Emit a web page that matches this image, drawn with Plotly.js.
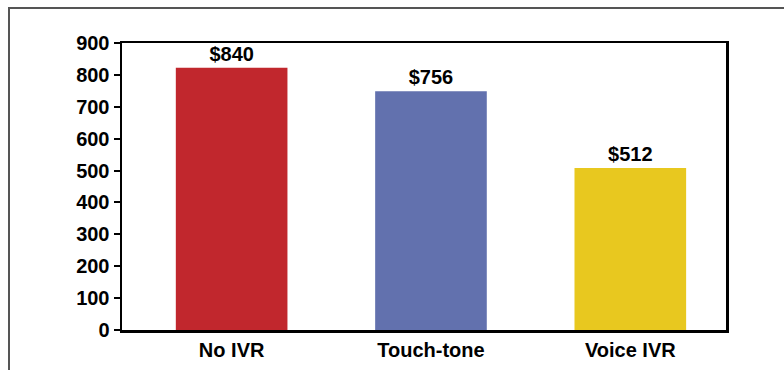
<!DOCTYPE html>
<html>
<head>
<meta charset="utf-8">
<script src="https://cdn.plot.ly/plotly-3.0.1.min.js"></script>
<style>
html,body{margin:0;padding:0;background:#fff;}
#wrap{position:relative;width:784px;height:370px;overflow:hidden;}
#frame{position:absolute;left:8px;top:7px;width:800px;height:400px;border-left:2px solid #555;border-top:2px solid #555;pointer-events:none;}
#chart{position:absolute;left:0;top:0;width:784px;height:370px;}
</style>
</head>
<body>
<div id="wrap">
<div id="chart"></div>
<div id="frame"></div>
</div>
<script>
const categories = ["No IVR", "Touch-tone", "Voice IVR"];
const barValues = [822, 749, 508];
const barLabels = ["$840", "$756", "$512"];
const barColors = ["#C1272D", "#6271AE", "#E8C81F"];
const yTicks = [0, 100, 200, 300, 400, 500, 600, 700, 800, 900];

const font = "Liberation Sans, Arial, Helvetica, sans-serif";

const trace = {
  type: "bar",
  x: categories,
  y: barValues,
  width: 0.56,
  marker: {color: barColors, line: {width: 0}},
  text: barLabels,
  textposition: "outside",
  cliponaxis: false,
  textfont: {family: font, size: 20, color: "#000", weight: "bold"},
  hoverinfo: "none"
};

const layout = {
  width: 784, height: 370,
  margin: {l: 122, r: 58, t: 43, b: 40},
  paper_bgcolor: "rgba(0,0,0,0)",
  plot_bgcolor: "#fff",
  showlegend: false,
  xaxis: {
    range: [-0.55, 2.48],
    showline: true, linecolor: "#000", linewidth: 2.5, mirror: true,
    ticks: "", showgrid: false, zeroline: false,
    tickfont: {family: font, size: 20, color: "#000", weight: "bold"}
  },
  yaxis: {
    range: [0, 900],
    tickvals: yTicks,
    showline: true, linecolor: "#000", linewidth: 2.5, mirror: true,
    ticks: "outside", ticklen: 6, tickwidth: 2, tickcolor: "#000",
    showgrid: false, zeroline: false,
    tickfont: {family: font, size: 20, color: "#000", weight: "bold"}
  }
};

Plotly.newPlot("chart", [trace], layout, {staticPlot: true, displayModeBar: false});
</script>
</body>
</html>
